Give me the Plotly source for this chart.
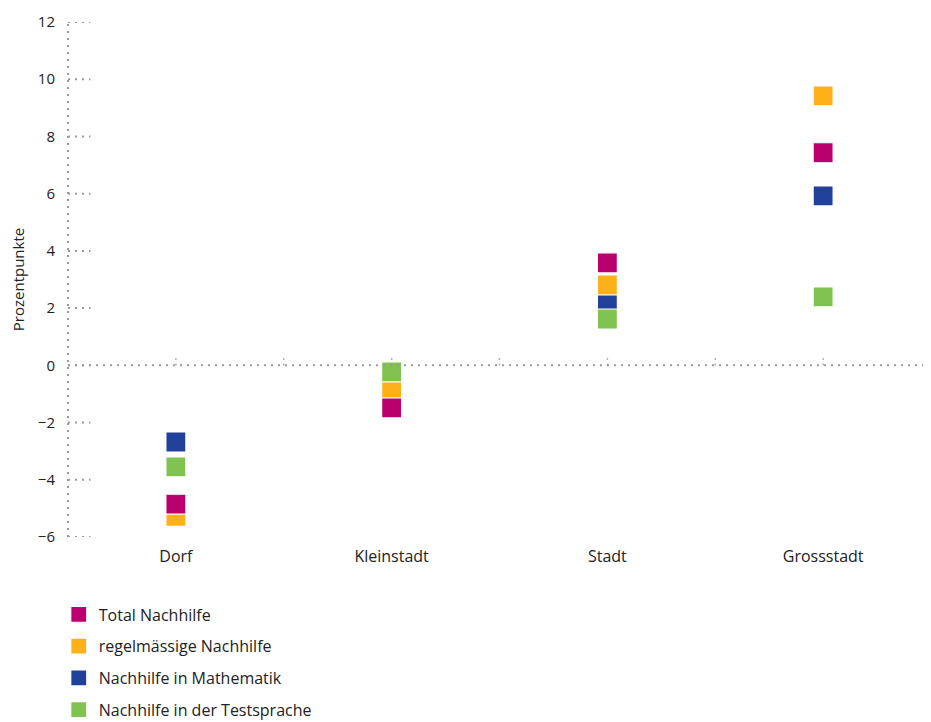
import plotly.graph_objects as go

categories = ["Dorf", "Kleinstadt", "Stadt", "Grossstadt"]
total_nachhilfe = [-4.85, -1.49, 3.58, 7.43]
regelmaessige_nachhilfe = [-5.28, -0.86, 2.81, 9.42]
nachhilfe_mathematik = [-2.68, -0.86, 2.25, 5.92]
nachhilfe_testsprache = [-3.55, -0.23, 1.62, 2.39]
y_ticks = [-6, -4, -2, 0, 2, 4, 6, 8, 10, 12]

series = [
    # drawing order (later on top), legend rank keeps reference legend order
    ("Nachhilfe in Mathematik", nachhilfe_mathematik, "#21409A", 3),
    ("regelmässige Nachhilfe", regelmaessige_nachhilfe, "#FDB018", 2),
    ("Total Nachhilfe", total_nachhilfe, "#BA006E", 1),
    ("Nachhilfe in der Testsprache", nachhilfe_testsprache, "#80C350", 4),
]

xs = list(range(len(categories)))
fig = go.Figure()
for name, vals, color, rank in series:
    fig.add_trace(go.Scatter(
        x=xs, y=vals, mode="markers", name=name,
        legendrank=rank, legendgroup=name,
        marker=dict(symbol="square", size=20, color=color,
                    line=dict(color="white", width=1.2)),
    ))

dotc = "#9a9a9a"
dash = "2px,5px"
shapes = []
# y axis line
shapes.append(dict(type="line", xref="paper", yref="y", x0=0, x1=0,
                   y0=min(y_ticks), y1=max(y_ticks),
                   line=dict(color=dotc, width=2, dash=dash)))
# zero line
shapes.append(dict(type="line", xref="paper", yref="y", x0=0, x1=1, y0=0, y1=0,
                   line=dict(color=dotc, width=2, dash=dash)))
# y tick marks (short dotted, inside)
for t in y_ticks:
    shapes.append(dict(type="line", xref="paper", yref="y", x0=0, x1=0.026,
                       y0=t, y1=t, line=dict(color=dotc, width=2, dash=dash)))
# x tick marks at half category steps on the zero line
for i in range(2 * len(categories) - 1):
    shapes.append(dict(type="line", xref="x", yref="y", x0=i * 0.5, x1=i * 0.5,
                       ysizemode="pixel", yanchor=0, y0=0, y1=7,
                       line=dict(color=dotc, width=1.5, dash="1.5px,4px")))

fig.update_layout(
    width=923, height=714,
    margin=dict(l=60, r=0, t=14, b=185),
    plot_bgcolor="white", paper_bgcolor="white",
    font=dict(family="Open Sans", size=15, color="#222"),
    shapes=shapes,
    showlegend=True,
    legend=dict(orientation="v", xref="paper", x=-0.0107, xanchor="left",
                yref="container", y=0.1745, yanchor="top",
                font=dict(family="Open Sans", size=16, color="#222"),
                tracegroupgap=8, itemsizing="trace", bgcolor="rgba(0,0,0,0)"),
    xaxis=dict(range=[-0.5, len(categories) - 0.5], tickvals=xs, ticktext=categories,
               showgrid=False, zeroline=False, showline=False, ticks="",
               automargin=False, ticklabelstandoff=8,
               tickfont=dict(family="Open Sans", size=16, color="#222")),
    yaxis=dict(range=[min(y_ticks), max(y_ticks)], tickvals=y_ticks,
               showgrid=False, zeroline=False, showline=False, ticks="",
               automargin=False, ticklabelstandoff=12,
               title=dict(text="Prozentpunkte", standoff=13,
                          font=dict(family="Open Sans", size=15, color="#222")),
               tickfont=dict(family="Open Sans", size=15, color="#222")),
)

fig.write_html("out.html")
